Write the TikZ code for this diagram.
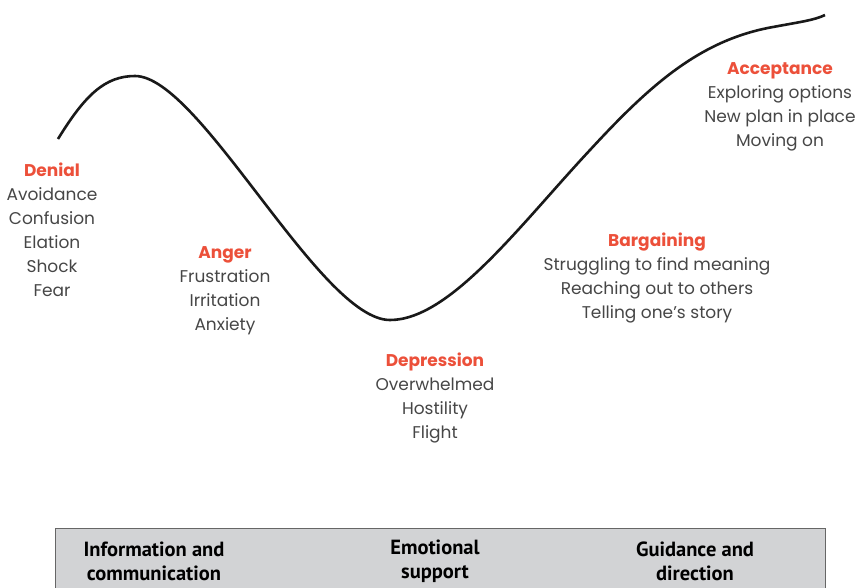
\documentclass[tikz,border=0pt]{standalone}
\usepackage{fontspec}
\setmainfont{Poppins}
\newfontfamily\boxfont{PT Sans}
\usepackage{tikz}
\definecolor{stagered}{RGB}{236,80,58}
\definecolor{stagegray}{RGB}{70,70,70}
\definecolor{panelgray}{RGB}{210,211,213}
\tikzset{
  stage/.style={align=center, text=stagegray, font=\fontsize{17}{24}\selectfont, inner sep=0pt, anchor=north},
  panel/.style={align=center, text=black, font=\boxfont\bfseries\fontsize{20.5}{24}\selectfont, inner sep=0pt},
}
\newcommand{\stagetitle}[1]{\textcolor{stagered}{\bfseries #1}}
\begin{document}
\begin{tikzpicture}[x=1pt,y=-1pt]
  \useasboundingbox (0,0) rectangle (858,587);
  % change curve
  \draw[line width=2.6pt, black!90] (58,139) .. controls (85,95) and (105,76) .. (135,76)
    .. controls (200,76) and (320,320) .. (390,320)
    .. controls (450,320) and (520,225) .. (590,150)
    .. controls (650,85) and (700,40) .. (773,27)
    .. controls (800,22) and (815,20) .. (825,15);
  % stages
  \node[stage] (denial) at (52,163) {\stagetitle{Denial}\\Avoidance\\Confusion\\Elation\\Shock\\Fear};
  \node[stage] (anger) at (225,246) {\stagetitle{Anger}\\Frustration\\Irritation\\Anxiety};
  \node[stage] (depression) at (435,353) {\stagetitle{Depression}\\Overwhelmed\\Hostility\\Flight};
  \node[stage] (bargaining) at (657,233) {\stagetitle{Bargaining}\\Struggling to find meaning\\Reaching out to others\\Telling one’s story};
  \node[stage] (acceptance) at (780,62) {\stagetitle{Acceptance}\\Exploring options\\New plan in place\\Moving on};
  % support panel
  \draw[fill=panelgray, draw=black!60, line width=0.8pt] (55,528) rectangle (825,590);
  \node[panel] (info) at (154,561) {Information and\\communication};
  \node[panel] (emotion) at (435,561) {Emotional\\support};
  \node[panel] (guide) at (695,561) {Guidance and\\direction};
\end{tikzpicture}
\end{document}
